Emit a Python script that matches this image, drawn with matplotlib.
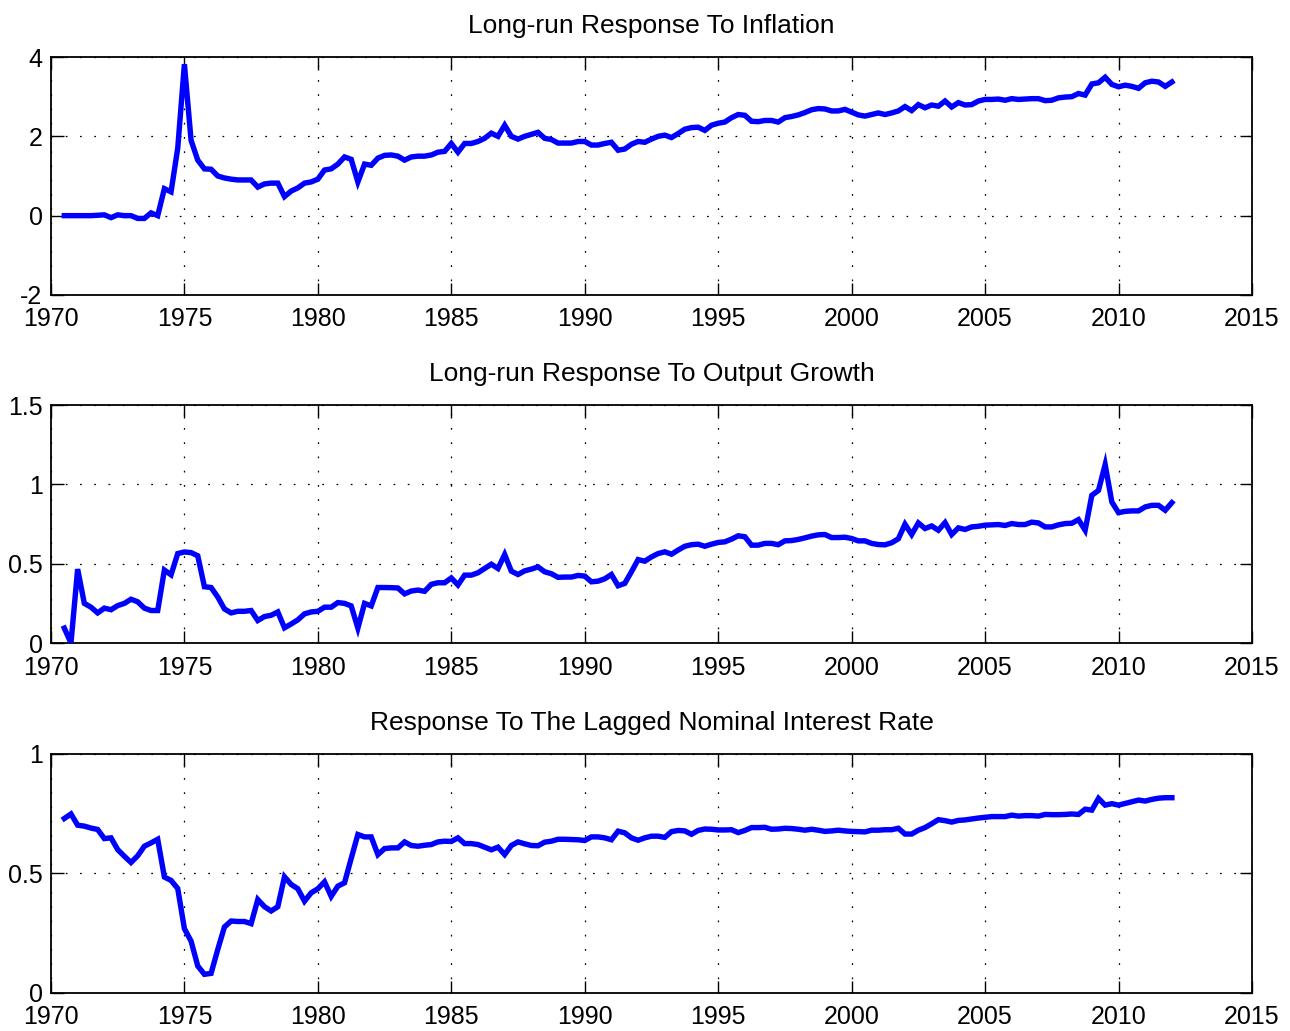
import numpy as np
import matplotlib
matplotlib.use("Agg")
import matplotlib.pyplot as plt
from matplotlib.ticker import FuncFormatter

# quarterly observations, 1970Q3 .. 2012Q1
quarters = np.arange(1970.5, 2012.01, 0.25)

inflation = [
    0.0, 0.0,
    0.0, 0.0, 0.0, 0.01,
    0.02, -0.05, 0.02, 0.0,
    0.0, -0.07, -0.07, 0.07,
    0.0, 0.68, 0.6, 1.7,
    3.82, 1.9, 1.4, 1.18,
    1.17, 1.0, 0.95, 0.92,
    0.9, 0.9, 0.9, 0.72,
    0.8, 0.82, 0.82, 0.48,
    0.62, 0.7, 0.82, 0.85,
    0.92, 1.15, 1.18, 1.3,
    1.48, 1.42, 0.85, 1.3,
    1.27, 1.45, 1.52, 1.53,
    1.5, 1.4, 1.48, 1.5,
    1.5, 1.53, 1.6, 1.62,
    1.82, 1.6, 1.82, 1.82,
    1.87, 1.95, 2.08, 2.0,
    2.28, 2.0, 1.93, 2.0,
    2.05, 2.1, 1.95, 1.92,
    1.83, 1.83, 1.83, 1.87,
    1.87, 1.78, 1.78, 1.82,
    1.85, 1.65, 1.68, 1.8,
    1.87, 1.85, 1.93, 2.0,
    2.03, 1.97, 2.07, 2.18,
    2.22, 2.23, 2.15, 2.28,
    2.33, 2.36, 2.47, 2.55,
    2.53, 2.38, 2.37, 2.40,
    2.40, 2.36, 2.47, 2.50,
    2.54, 2.60, 2.67, 2.70,
    2.69, 2.64, 2.64, 2.68,
    2.61, 2.54, 2.51, 2.55,
    2.59, 2.55, 2.59, 2.64,
    2.75, 2.65, 2.80, 2.72,
    2.79, 2.76, 2.89, 2.74,
    2.85, 2.79, 2.80, 2.89,
    2.93, 2.93, 2.94, 2.91,
    2.95, 2.93, 2.94, 2.95,
    2.95, 2.90, 2.91, 2.97,
    2.99, 3.0, 3.08, 3.04,
    3.32, 3.35, 3.49, 3.31,
    3.25, 3.29, 3.26, 3.21,
    3.35, 3.39, 3.37, 3.26,
    3.37,
]

output_growth = [
    0.094, 0.0,
    0.466, 0.25, 0.226, 0.19,
    0.22, 0.21, 0.236, 0.25,
    0.276, 0.26, 0.22, 0.205,
    0.205, 0.46, 0.43, 0.564,
    0.574, 0.57, 0.55, 0.355,
    0.35, 0.29, 0.215, 0.19,
    0.2, 0.2, 0.205, 0.142,
    0.167, 0.175, 0.196, 0.096,
    0.12, 0.146, 0.184, 0.196,
    0.2, 0.226, 0.226, 0.255,
    0.25, 0.234, 0.094, 0.25,
    0.234, 0.35, 0.35, 0.349,
    0.347, 0.31, 0.328, 0.334,
    0.326, 0.37, 0.38, 0.38,
    0.41, 0.366, 0.428, 0.428,
    0.443, 0.47, 0.497, 0.47,
    0.558, 0.453, 0.432, 0.455,
    0.466, 0.48, 0.449, 0.437,
    0.414, 0.416, 0.416, 0.426,
    0.422, 0.386, 0.39, 0.405,
    0.432, 0.361, 0.376, 0.449,
    0.526, 0.516, 0.543, 0.564,
    0.575, 0.56, 0.586, 0.61,
    0.62, 0.623, 0.61, 0.623,
    0.634, 0.638, 0.655, 0.676,
    0.67, 0.617, 0.617, 0.628,
    0.628, 0.62, 0.644, 0.646,
    0.653, 0.663, 0.674, 0.682,
    0.684, 0.665, 0.665, 0.667,
    0.659, 0.644, 0.644, 0.628,
    0.621, 0.619, 0.632, 0.657,
    0.749, 0.684, 0.757, 0.722,
    0.738, 0.711, 0.759, 0.684,
    0.726, 0.716, 0.732, 0.736,
    0.743, 0.745, 0.747, 0.741,
    0.753, 0.747, 0.747, 0.762,
    0.757, 0.732, 0.732, 0.745,
    0.753, 0.755, 0.778, 0.711,
    0.931, 0.962, 1.125, 0.889,
    0.822, 0.83, 0.833, 0.833,
    0.858, 0.868, 0.868, 0.837,
    0.885,
]

lagged_rate = [
    0.73, 0.749,
    0.702, 0.698, 0.69, 0.684,
    0.646, 0.649, 0.6, 0.572,
    0.546, 0.574, 0.614, 0.628,
    0.643, 0.485, 0.471, 0.437,
    0.269, 0.217, 0.113, 0.078,
    0.082, 0.182, 0.276, 0.301,
    0.299, 0.299, 0.29, 0.391,
    0.361, 0.343, 0.361, 0.486,
    0.454, 0.436, 0.384, 0.419,
    0.436, 0.465, 0.404, 0.447,
    0.461, 0.563, 0.663, 0.653,
    0.653, 0.579, 0.604, 0.607,
    0.607, 0.632, 0.617, 0.614,
    0.618, 0.621, 0.632, 0.635,
    0.634, 0.649, 0.625, 0.625,
    0.621, 0.61, 0.599, 0.61,
    0.579, 0.617, 0.632, 0.624,
    0.617, 0.616, 0.631, 0.635,
    0.643, 0.643, 0.642, 0.641,
    0.638, 0.653, 0.653, 0.649,
    0.641, 0.677, 0.67, 0.649,
    0.639, 0.649, 0.656, 0.656,
    0.651, 0.675, 0.68, 0.678,
    0.664, 0.68, 0.686, 0.685,
    0.682, 0.682, 0.683, 0.671,
    0.68, 0.692, 0.692, 0.693,
    0.685, 0.686, 0.689, 0.688,
    0.685, 0.681, 0.685, 0.681,
    0.676, 0.678, 0.681, 0.678,
    0.676, 0.675, 0.674, 0.681,
    0.681, 0.683, 0.683, 0.689,
    0.665, 0.665, 0.681, 0.692,
    0.708, 0.725, 0.721, 0.715,
    0.722, 0.724, 0.728, 0.732,
    0.735, 0.738, 0.738, 0.738,
    0.744, 0.74, 0.742, 0.742,
    0.74, 0.747, 0.746, 0.746,
    0.747, 0.749, 0.747, 0.769,
    0.765, 0.814, 0.786, 0.792,
    0.786, 0.793, 0.8, 0.807,
    0.803, 0.81, 0.815, 0.817,
    0.817,
]

titles = [
    "Long-run Response To Inflation",
    "Long-run Response To Output Growth",
    "Response To The Lagged Nominal Interest Rate",
]
y_limits = [(-2, 4), (0, 1.5), (0, 1)]
y_ticks = [[-2, 0, 2, 4], [0, 0.5, 1, 1.5], [0, 0.5, 1]]
x_ticks = list(range(1970, 2016, 5))


def plain_number(x, pos):
    return f"{x:g}"


def draw_panel(ax, values, title, ylim, yticks):
    ax.plot(quarters, values, color=(0, 0, 1), linewidth=3.9, solid_joinstyle="miter", zorder=3)
    ax.set_xlim(1970, 2015)
    ax.set_ylim(*ylim)
    ax.set_xticks(x_ticks)
    ax.set_yticks(yticks)
    ax.yaxis.set_major_formatter(FuncFormatter(plain_number))
    ax.grid(True, color="black", linestyle=(0, (1.4, 10)), linewidth=0.9)
    ax.tick_params(direction="in", length=9, width=1, top=True, right=True,
                   labelsize=18, pad=6)
    ax.tick_params(axis="x", pad=9)
    for spine in ax.spines.values():
        spine.set_linewidth(1.3)
    ax.set_title(title, fontsize=19, pad=17)


def main():
    plt.rcParams["font.family"] = ["Liberation Sans", "DejaVu Sans"]
    plt.rcParams["axes.unicode_minus"] = False

    fig = plt.figure(figsize=(12.9, 10.31), dpi=100)
    rects = [
        [0.0395, 0.7139, 0.931, 0.2308],
        [0.0395, 0.3763, 0.931, 0.2308],
        [0.0395, 0.0369, 0.931, 0.2318],
    ]
    series = [inflation, output_growth, lagged_rate]
    for rect, values, title, ylim, yticks in zip(rects, series, titles, y_limits, y_ticks):
        ax = fig.add_axes(rect)
        draw_panel(ax, values, title, ylim, yticks)

    fig.savefig("out.png", dpi=100)


if __name__ == "__main__":
    main()
